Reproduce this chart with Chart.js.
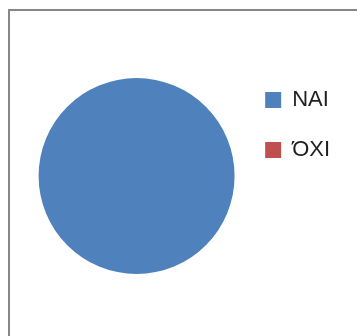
<!DOCTYPE html>
<html>
<head>
<meta charset="utf-8">
<script src="https://cdn.jsdelivr.net/npm/chart.js@4/dist/chart.umd.min.js"></script>
<style>
  html, body { margin: 0; padding: 0; background: #fff; }
  #wrap { position: relative; width: 357px; height: 336px; overflow: hidden; }
  #frame {
    position: absolute; left: 8px; top: 9px; width: 400px; height: 400px;
    border-left: 2px solid #878787; border-top: 2px solid #878787;
  }
  #chart { position: absolute; left: 0; top: 0; }
</style>
</head>
<body>
<div id="wrap">
  <div id="frame"></div>
  <canvas id="chart" width="357" height="336"></canvas>
</div>
<script>
// Answers and their counts
const labels = ["NAI", "ΌΧΙ"];
const counts = [100, 0];
const colors = ["#4F81BD", "#C0504D"];

const ctx = document.getElementById("chart").getContext("2d");

new Chart(ctx, {
  type: "pie",
  data: {
    labels: labels,
    datasets: [{
      data: counts,
      backgroundColor: colors,
      borderWidth: 0,
      radius: 98,
    }]
  },
  options: {
    responsive: false,
    animation: false,
    layout: { padding: { left: 36, top: 61, bottom: 45, right: 17 } },
    plugins: {
      tooltip: { enabled: false },
      legend: {
        position: "right",
        align: "start",
        labels: {
          boxWidth: 16,
          boxHeight: 16,
          padding: 28,
          color: "#1f1f1f",
          font: { family: "'Liberation Sans', Arial, sans-serif", size: 22 },
        }
      }
    }
  }
});
</script>
</body>
</html>
